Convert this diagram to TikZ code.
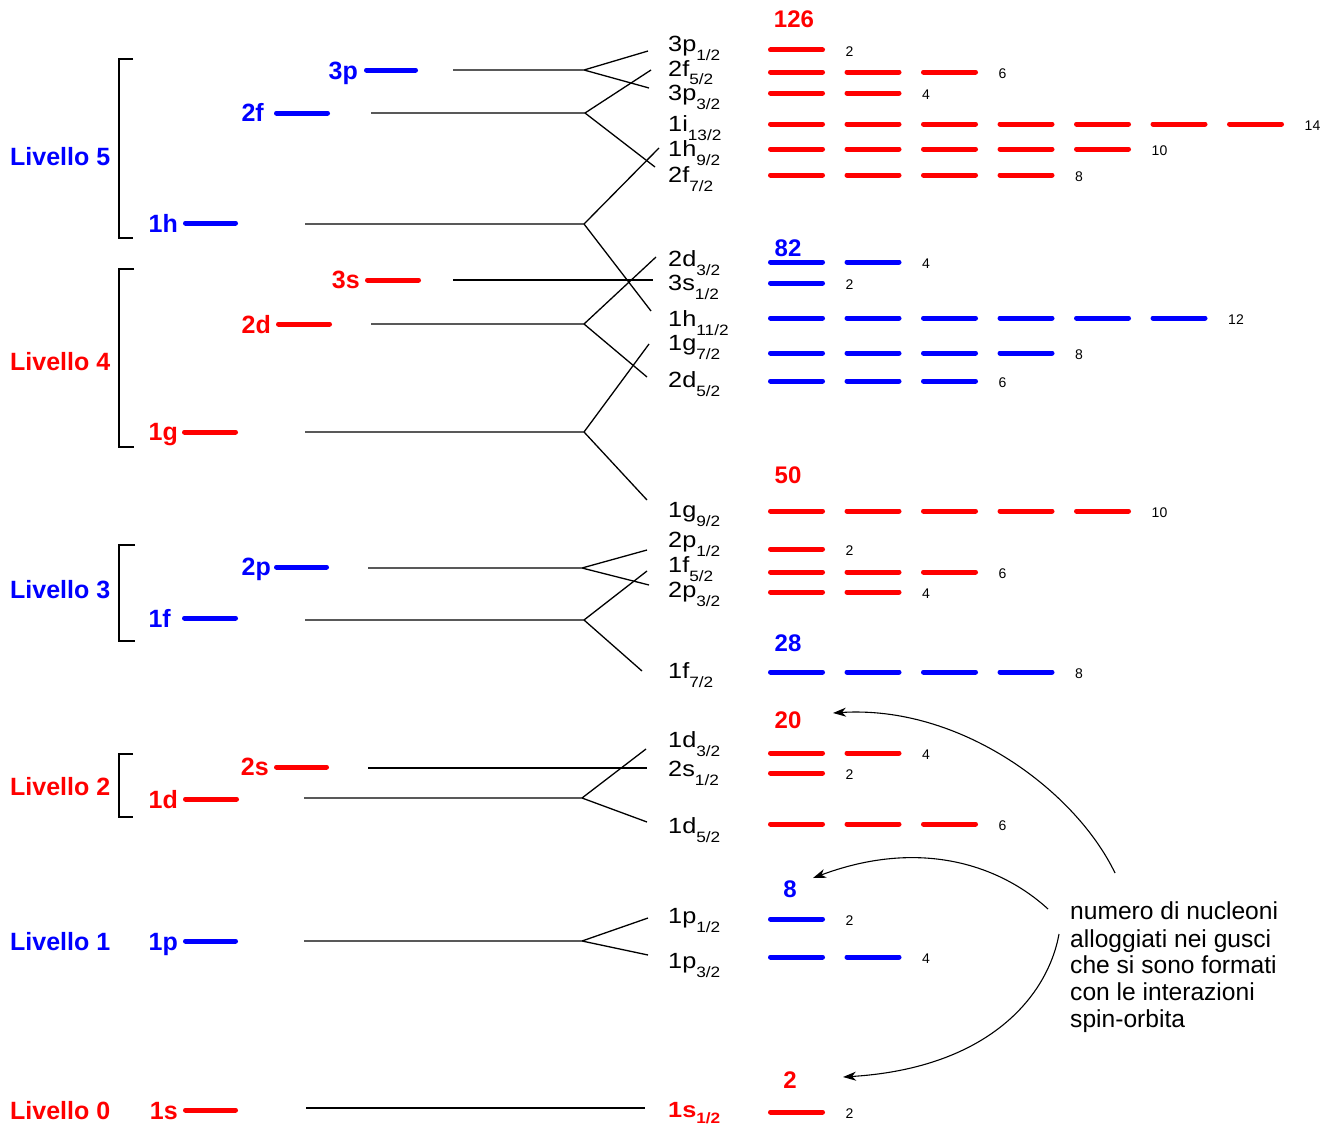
\documentclass[tikz,border=0pt]{standalone}
\usepackage{fontspec}
\setmainfont{Liberation Sans}
\newfontfamily\subfont[FakeStretch=1.15]{Liberation Sans}
\usetikzlibrary{arrows.meta}
\definecolor{cred}{RGB}{255,0,0}
\definecolor{cblue}{RGB}{0,0,255}
\newcommand{\sbs}[1]{\raisebox{-9pt}{\fontsize{15}{15}\selectfont #1}}
\newcommand{\sbsb}[1]{\raisebox{-6pt}{\fontsize{15}{15}\selectfont #1}}
\begin{document}
\begin{tikzpicture}[x=1pt,y=-1pt,
 lvl/.style={font=\fontsize{25}{25}\selectfont\bfseries, anchor=base west, inner sep=0pt},
 orb/.style={font=\fontsize{25}{25}\selectfont\bfseries, anchor=base east, inner sep=0pt},
 sublbl/.style={font=\subfont\fontsize{22}{22}\selectfont, anchor=base west, inner sep=0pt},
 magic/.style={font=\fontsize{24}{24}\selectfont\bfseries, anchor=base, inner sep=0pt},
 cnt/.style={font=\fontsize{14}{14}\selectfont, anchor=west, inner sep=0pt},
 note/.style={font=\fontsize{24.6}{24.6}\selectfont, anchor=base west, inner sep=0pt},
 bar/.style={line width=5pt, line cap=round},
 conn/.style={line width=1.3pt},
 brk/.style={line width=1.5pt},
 arr/.style={line width=1.1pt, -{Stealth[length=13pt,width=9pt,inset=4pt]}}]
\useasboundingbox (0,0) rectangle (1329,1124);

% Livello labels
\node[lvl,cblue] (L5) at (10,165) {Livello 5};
\node[lvl,cred]  (L4) at (10,370) {Livello 4};
\node[lvl,cblue] (L3) at (10,598) {Livello 3};
\node[lvl,cred]  (L2) at (10,795) {Livello 2};
\node[lvl,cblue] (L1) at (10,950) {Livello 1};
\node[lvl,cred]  (L0) at (10,1119) {Livello 0};

% brackets
\draw[brk] (133,59) -- (119,59) -- (119,238) -- (133,238);
\draw[brk] (134,269) -- (119,269) -- (119,447) -- (134,447);
\draw[brk] (135,545) -- (119,545) -- (119,641) -- (135,641);
\draw[brk] (133,754) -- (119,754) -- (119,817) -- (133,817);

% orbital labels and bars
\foreach \nm/\cc/\xr/\yb/\xa/\xe/\yy in {
 3p/cblue/358/79/364/418/70,
 2f/cblue/264/121/274/330/113,
 1h/cblue/178/232/183/238/223,
 3s/cred/360/288/365/421/280,
 2d/cred/271/333/276/332/324,
 1g/cred/178/440/182/238/432,
 2p/cblue/271/575/274/329/567,
 1f/cblue/171/627/182/238/618,
 2s/cred/269/775/274/329/767,
 1d/cred/178/808/183/239/799,
 1p/cblue/178/950/183/238/941,
 1s/cred/178/1119/183/238/1110}
{
 \node[orb,\cc] (o\nm) at (\xr,\yb) {\nm};
 \draw[bar,\cc] ({\xa+2.5},\yy) -- ({\xe-2.5},\yy);
}

% splitting connectors
\foreach \nm/\xl/\xb/\yy/\xu/\yu/\xd/\yd in {
 3p/453/584/70/648/51/649/88,
 2f/371/585/113/651/70/655/167,
 1h/305/584/224/659/148/651/311,
 2d/371/584/324/656/257/647/377,
 1g/305/584/432/649/344/647/500,
 2p/368/582/568/647/550/649/585,
 1f/305/584/620/647/571/642/671,
 1d/304/582/798/646/749/647/822,
 1p/304/582/941/648/918/648/955}
{
 \coordinate (s\nm) at (\xl,\yy);
 \coordinate (b\nm) at (\xb,\yy);
 \coordinate (u\nm) at (\xu,\yu);
 \coordinate (d\nm) at (\xd,\yd);
 \draw[conn] (s\nm) -- (b\nm) -- (u\nm) (b\nm) -- (d\nm);
}
\coordinate (s3s) at (453,280); \coordinate (e3s) at (653,280);
\coordinate (s2s) at (368,768); \coordinate (e2s) at (647,768);
\coordinate (s1s) at (306,1108); \coordinate (e1s) at (645,1108);
\draw[conn] (s3s) -- (e3s);
\draw[conn] (s2s) -- (e2s);
\draw[conn] (s1s) -- (e1s);

% sublevel labels
\foreach \nm/\tx/\sb/\yb in {
 a/3p/1\slash 2/52, b/2f/5\slash 2/76, c/3p/3\slash 2/100, d/1i/13\slash 2/131,
 e/1h/9\slash 2/156, f/2f/7\slash 2/182, g/2d/3\slash 2/266, h/3s/1\slash 2/290,
 i/1h/11\slash 2/326, j/1g/7\slash 2/350, k/2d/5\slash 2/387, l/1g/9\slash 2/517,
 m/2p/1\slash 2/547, n/1f/5\slash 2/572, o/2p/3\slash 2/597, p/1f/7\slash 2/678,
 q/1d/3\slash 2/747, r/2s/1\slash 2/776, s/1d/5\slash 2/833, t/1p/1\slash 2/923,
 u/1p/3\slash 2/968}
{
 \node[sublbl] (sl\nm) at (668,\yb) {\tx\sbs{\sb}};
}
\node[sublbl,cred,font=\subfont\fontsize{22}{22}\selectfont\bfseries] (slv) at (668,1117) {1s\sbsb{1/2}};

% magic numbers
\node[magic,cred]  (m126) at (794,28) {126};
\node[magic,cblue] (m82)  at (788,256) {82};
\node[magic,cred]  (m50)  at (788,483) {50};
\node[magic,cblue] (m28)  at (788,651) {28};
\node[magic,cred]  (m20)  at (788,728) {20};
\node[magic,cblue] (m8)   at (790,897) {8};
\node[magic,cred]  (m2)   at (790,1088) {2};

% shell bars
\foreach \yy/\nn/\cc [count=\k] in {
 50/1/cred, 72/3/cred, 93/2/cred, 124/7/cred, 149/5/cred, 175/4/cred,
 262/2/cblue, 283/1/cblue, 318/6/cblue, 353/4/cblue, 381/3/cblue,
 511/5/cred, 549/1/cred, 572/3/cred, 592/2/cred,
 672/4/cblue,
 753/2/cred, 773/1/cred, 824/3/cred,
 919/1/cblue, 957/2/cblue,
 1112/1/cred}
{
 \foreach \i in {1,...,\nn} {
  \draw[bar,\cc] ({768+76.5*(\i-1)+2.5},\yy) -- ({768+76.5*(\i-1)+54.5},\yy);
 }
 \pgfmathtruncatemacro{\cntv}{2*\nn}
 \node[cnt] (cnt\k) at ({768+76.5*\nn+1},{\yy+2}) {\cntv};
}

% note
\node[note] (n1) at (1070,919) {numero di nucleoni};
\node[note] (n2) at (1070,947) {alloggiati nei gusci};
\node[note] (n3) at (1070,973) {che si sono formati};
\node[note] (n4) at (1070,1000) {con le interazioni};
\node[note] (n5) at (1070,1027) {spin-orbita};

% arrows
\coordinate (a1s) at (1115,873); \coordinate (a1e) at (833,713);
\coordinate (a2s) at (1048,909); \coordinate (a2e) at (813,878);
\coordinate (a3s) at (1059,934); \coordinate (a3e) at (843,1077);
\draw[arr] (a1s) .. controls (1075,790) and (960,705) .. (a1e);
\draw[arr] (a2s) .. controls (1000,865) and (920,838) .. (a2e);
\draw[arr] (a3s) .. controls (1048,995) and (990,1068) .. (a3e);
\end{tikzpicture}
\end{document}
